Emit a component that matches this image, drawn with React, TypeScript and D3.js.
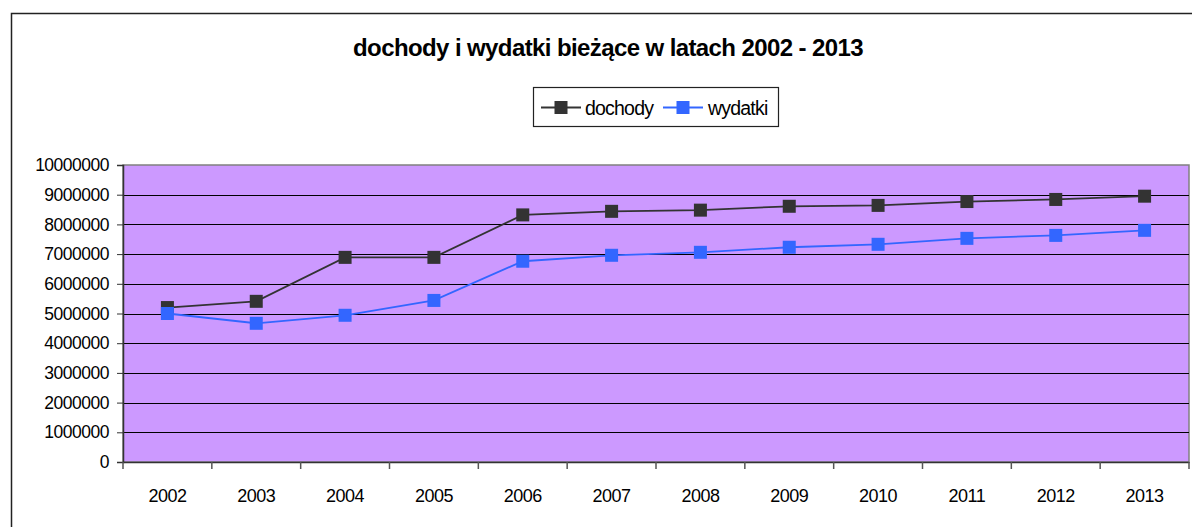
import React, { useEffect, useRef } from "react";
import * as d3 from "d3";

const years = ["2002", "2003", "2004", "2005", "2006", "2007", "2008", "2009", "2010", "2011", "2012", "2013"];
const dochody = [5200000, 5410000, 6890000, 6890000, 8320000, 8440000, 8480000, 8610000, 8640000, 8770000, 8840000, 8950000];
const wydatki = [5000000, 4670000, 4940000, 5440000, 6760000, 6960000, 7060000, 7230000, 7330000, 7530000, 7630000, 7800000];
const yTicks = [0, 1000000, 2000000, 3000000, 4000000, 5000000, 6000000, 7000000, 8000000, 9000000, 10000000];

const series = [
  { name: "dochody", values: dochody, color: "#333333" },
  { name: "wydatki", values: wydatki, color: "#3366FF" },
];

const App = () => {
  const svgRef = useRef<SVGSVGElement | null>(null);

  useEffect(() => {
    const width = 1192;
    const height = 527;
    const margin = { top: 165, right: 3, bottom: 65, left: 123 };
    const font = "'Liberation Sans', Arial, sans-serif";

    const svg = d3.select(svgRef.current).attr("width", width).attr("height", height);
    svg.selectAll("*").remove();

    svg.append("rect").attr("width", width).attr("height", height).attr("fill", "#fff");

    // outer chart border (cut off at right and bottom)
    svg
      .append("rect")
      .attr("x", 11.5)
      .attr("y", 13.5)
      .attr("width", width + 20)
      .attr("height", height + 20)
      .attr("fill", "none")
      .attr("stroke", "#222")
      .attr("stroke-width", 1.5);

    svg
      .append("text")
      .attr("x", 608)
      .attr("y", 56)
      .attr("text-anchor", "middle")
      .style("font-family", font)
      .style("font-weight", "bold")
      .style("font-size", "24px")
      .style("letter-spacing", "-0.6px")
      .text("dochody i wydatki bieżące w latach 2002 - 2013");

    const x = d3
      .scaleBand()
      .domain(years)
      .range([margin.left, width - margin.right]);

    const y = d3
      .scaleLinear()
      .domain([0, 10000000])
      .range([height - margin.bottom, margin.top]);

    const plotW = width - margin.right - margin.left;
    const plotH = height - margin.bottom - margin.top;

    svg
      .append("rect")
      .attr("x", margin.left)
      .attr("y", margin.top)
      .attr("width", plotW)
      .attr("height", plotH)
      .attr("fill", "#CC99FF")
      .attr("stroke", "#808080")
      .attr("stroke-width", 1.5);

    // grid
    svg
      .append("g")
      .selectAll("line")
      .data(yTicks.filter((d) => d > 0 && d < 10000000))
      .enter()
      .append("line")
      .attr("x1", margin.left)
      .attr("x2", width - margin.right)
      .attr("y1", (d) => Math.round(y(d)) + 0.5)
      .attr("y2", (d) => Math.round(y(d)) + 0.5)
      .attr("stroke", "#000")
      .attr("stroke-width", 1);

    // y axis
    const yAxis = svg
      .append("g")
      .attr("transform", `translate(${margin.left},0)`)
      .call(d3.axisLeft(y).tickValues(yTicks).tickFormat(d3.format("d")).tickSize(6).tickPadding(8));
    yAxis.select(".domain").attr("stroke", "#333").attr("stroke-width", 1.5);
    yAxis.selectAll(".tick line").attr("stroke", "#333");
    yAxis
      .selectAll("text")
      .style("font-family", font)
      .style("font-size", "17.5px")
      .style("letter-spacing", "-0.5px")
      .attr("fill", "#000");

    // x axis
    const xAxis = svg
      .append("g")
      .attr("transform", `translate(0,${height - margin.bottom})`)
      .call(d3.axisBottom(x).tickSize(0).tickPadding(27));
    xAxis.select(".domain").attr("stroke", "#333").attr("stroke-width", 1.5);
    xAxis
      .selectAll("text")
      .style("font-family", font)
      .style("font-size", "18px")
      .style("letter-spacing", "-0.5px")
      .attr("fill", "#000");

    // category boundary ticks
    svg
      .append("g")
      .selectAll("line")
      .data([...years.map((d) => x(d) as number), width - margin.right])
      .enter()
      .append("line")
      .attr("x1", (d) => d)
      .attr("x2", (d) => d)
      .attr("y1", height - margin.bottom)
      .attr("y2", height - margin.bottom + 7)
      .attr("stroke", "#555")
      .attr("stroke-width", 1.5);

    const cx = (i: number) => (x(years[i]) as number) + x.bandwidth() / 2;
    const line = d3
      .line<number>()
      .x((d, i) => cx(i))
      .y((d) => y(d));

    const ms = 13;
    series.forEach((s) => {
      svg
        .append("path")
        .datum(s.values)
        .attr("fill", "none")
        .attr("stroke", s.color)
        .attr("stroke-width", 1.8)
        .attr("d", line);
      svg
        .append("g")
        .selectAll("rect")
        .data(s.values)
        .enter()
        .append("rect")
        .attr("x", (d, i) => cx(i) - ms / 2)
        .attr("y", (d) => y(d) - ms / 2)
        .attr("width", ms)
        .attr("height", ms)
        .attr("fill", s.color);
    });

    // legend
    const lg = svg.append("g");
    lg.append("rect")
      .attr("x", 533.5)
      .attr("y", 87.5)
      .attr("width", 245)
      .attr("height", 39)
      .attr("fill", "#fff")
      .attr("stroke", "#222")
      .attr("stroke-width", 1.2);
    const items = [
      { s: series[0], x0: 541, tx: 585 },
      { s: series[1], x0: 663, tx: 708 },
    ];
    items.forEach(({ s, x0, tx }) => {
      lg.append("line")
        .attr("x1", x0)
        .attr("x2", x0 + 40)
        .attr("y1", 107.5)
        .attr("y2", 107.5)
        .attr("stroke", s.color)
        .attr("stroke-width", 1.8);
      lg.append("rect")
        .attr("x", x0 + 20 - ms / 2)
        .attr("y", 107.5 - ms / 2)
        .attr("width", ms)
        .attr("height", ms)
        .attr("fill", s.color);
      lg.append("text")
        .attr("x", tx)
        .attr("y", 114.5)
        .style("font-family", font)
        .style("font-size", "19.5px")
        .style("letter-spacing", "-0.8px")
        .text(s.name);
    });
  }, []);

  return (
    <div>
      <svg ref={svgRef} style={{ position: "fixed", left: 0, top: 0 }}></svg>
    </div>
  );
};

export default App;
